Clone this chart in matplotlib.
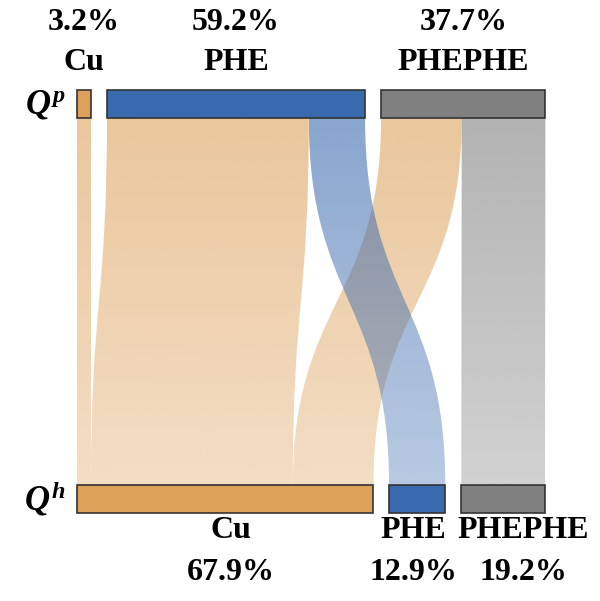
import numpy as np
import matplotlib.pyplot as plt
from matplotlib.path import Path
from matplotlib.patches import PathPatch, Rectangle
from matplotlib.colors import to_rgb

plt.rcParams['mathtext.fontset'] = 'custom'
plt.rcParams['mathtext.it'] = 'Liberation Serif:italic:bold'
plt.rcParams['mathtext.rm'] = 'Liberation Serif:bold'

categories = ['Cu', 'PHE', 'PHEPHE']
top_pct = [3.2, 59.2, 37.7]      # Q^p
bottom_pct = [67.9, 12.9, 19.2]  # Q^h
# flows[i][j]: share going from top category i to bottom category j
flows = [[3.2, 0.0, 0.0],
         [46.3, 12.9, 0.0],
         [18.5, 0.0, 19.2]]
colors = ['#DDA15A', '#3A6AAE', '#808080']

# layout (x in percent units, y in pixel rows from the top)
PX = 4.36            # pixels per percent
X0 = 77              # left edge of the first bar in pixels
GAP = 16 / PX
TOP_Y = (90, 118)
BOT_Y = (485, 513)
FONT = 'Liberation Serif'


def starts(widths):
    s, pos = [], 0.0
    for w in widths:
        s.append(pos)
        pos += w + GAP
    return s


top_x = starts(top_pct)
bot_x = starts(bottom_pct)

fig = plt.figure(figsize=(6, 6.01), dpi=100)
ax = fig.add_axes([0, 0, 1, 1])

# flows: compute ribbons first, draw grouped by target colour
yt, yb = TOP_Y[1], BOT_Y[0]
ym = (yt + yb) / 2
n = len(categories)
ribbons = []
top_off = list(top_x)
for i in range(n):
    for j in range(n):
        w = flows[i][j]
        if w <= 0:
            continue
        # within bottom category: order by top category
        bstart = bot_x[j] + sum(flows[k][j] for k in range(i))
        ribbons.append((j, top_off[i], top_off[i] + w, bstart, bstart + w))
        top_off[i] += w

for j, tl, tr, bl, br in sorted(ribbons, key=lambda r: r[0]):
    verts = [(tl, yt), (tl, ym), (bl, ym), (bl, yb),
             (br, yb), (br, ym), (tr, ym), (tr, yt), (tl, yt)]
    codes = [Path.MOVETO, Path.CURVE4, Path.CURVE4, Path.CURVE4,
             Path.LINETO, Path.CURVE4, Path.CURVE4, Path.CURVE4,
             Path.CLOSEPOLY]
    patch = PathPatch(Path(verts, codes), facecolor='none', edgecolor='none')
    ax.add_patch(patch)
    grad = np.zeros((256, 1, 4))
    grad[:, 0, :3] = to_rgb(colors[j])
    grad[:, 0, 3] = np.linspace(0.6, 0.36, 256)
    im = ax.imshow(grad, extent=(min(tl, bl), max(tr, br), yb, yt),
                   origin='upper', aspect='auto',
                   interpolation='bilinear', zorder=1 + j * 0.1)
    im.set_clip_path(patch)

# bars
for x, w, c in zip(top_x, top_pct, colors):
    ax.add_patch(Rectangle((x, TOP_Y[0]), w, TOP_Y[1] - TOP_Y[0],
                           facecolor=c, edgecolor='#333333', lw=1.2,
                           zorder=3))
for x, w, c in zip(bot_x, bottom_pct, colors):
    ax.add_patch(Rectangle((x, BOT_Y[0]), w, BOT_Y[1] - BOT_Y[0],
                           facecolor=c, edgecolor='#333333', lw=1.2,
                           zorder=3))

# labels
txt = dict(fontsize=23, fontweight='bold', family=FONT,
           ha='center', va='center')
for x, w, name in zip(top_x, top_pct, categories):
    cx = x + w / 2
    ax.text(cx, 22, f'{w}%', **txt)
    ax.text(cx, 63, name, **txt)

bot_shift = [6 / PX, -4 / PX, 20 / PX]
for x, w, name, s in zip(bot_x, bottom_pct, categories, bot_shift):
    cx = x + w / 2 + s
    ax.text(cx, 531, name, **txt)
    ax.text(cx, 572, f'{w}%', **txt)

ax.text(-32 / PX, 104, r'$Q^p$', fontsize=25, ha='center', va='center')
ax.text(-32 / PX, 499, r'$Q^h$', fontsize=25, ha='center', va='center')

ax.set_xlim(-X0 / PX, (600 - X0) / PX)
ax.set_ylim(601, 0)
ax.axis('off')

fig.savefig('out.png', dpi=100)
